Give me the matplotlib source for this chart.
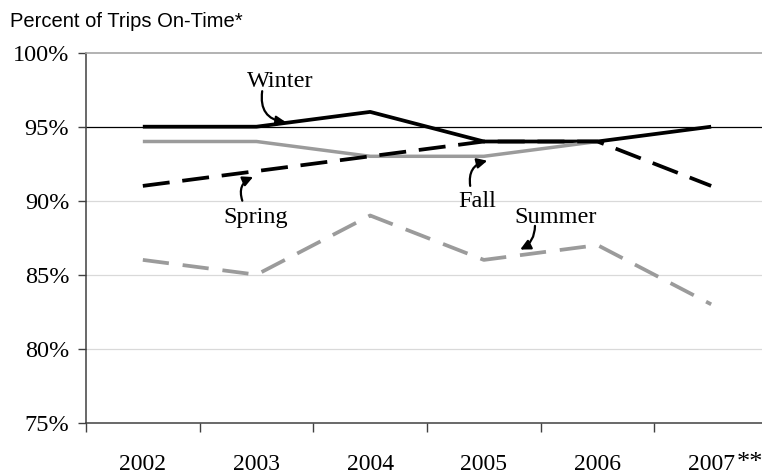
import numpy as np
import matplotlib
matplotlib.use('Agg')
from matplotlib import pyplot as plt
from matplotlib import transforms

# data
years = ['2002', '2003', '2004', '2005', '2006', '2007']
winter = [95, 95, 96, 94, 94, 95]
spring = [91, 92, 93, 94, 94, 91]
fall = [94, 94, 93, 93, 94, np.nan]
summer = [86, 85, 89, 86, 87, 83]
yticks = [75, 80, 85, 90, 95, 100]

SERIF = 'Liberation Serif'
GRAY = '#9B9B9B'

fig = plt.figure(figsize=(7.62, 4.75), dpi=100)
ax = fig.add_axes([86 / 762, 52.3 / 475, 682 / 762, 370 / 475])
x = np.arange(len(years))

# gridlines
for g in [80, 85, 90]:
    ax.axhline(g, color='#D9D9D9', lw=0.9, zorder=0)
ax.axhline(95, color='black', lw=0.9, zorder=1)

# series
ax.plot(x, fall, color=GRAY, lw=2.5, solid_capstyle='butt', zorder=3)
ax.plot(x, winter, color='black', lw=2.7, solid_capstyle='butt', zorder=2)
ax.plot(x, spring, color='black', lw=2.7, dashes=(7.2, 3.4), zorder=4)
ax.plot(x, summer, color=GRAY, lw=2.7, dashes=(7.0, 3.7), zorder=4)

ax.set_xlim(-0.5, 5.5)
ax.set_ylim(75, 100)

# axes styling
ax.spines['right'].set_visible(False)
ax.spines['top'].set_color('#A6A6A6')
ax.spines['top'].set_linewidth(1.2)
for s in ['left', 'bottom']:
    ax.spines[s].set_color('#404040')
    ax.spines[s].set_linewidth(1.1)

ax.set_yticks(yticks)
ax.set_yticklabels([f'{v}%' for v in yticks], fontsize=17.5, family=SERIF)
ax.tick_params(axis='y', length=6, width=1, color='#404040', pad=6)

ax.set_xticks(x)
ax.set_xticklabels(years, fontsize=17, family=SERIF)
ax.set_xticks(np.arange(-0.5, 6, 1), minor=True)
ax.tick_params(axis='x', which='major', length=0, pad=22.5)
ax.tick_params(axis='x', which='minor', length=6.5, width=1, color='#404040')

blend = transforms.blended_transform_factory(ax.transData, ax.transAxes)
ax.text(5.225, -0.078, '**', transform=blend, ha='left', va='top',
        fontsize=19, family=SERIF)

fig.text(10 / 762, 1 - 27 / 475, 'Percent of Trips On-Time*', fontsize=14.5,
         family='Liberation Sans', ha='left', va='baseline')

# labels with curved arrows
def label(txt, tx, ty, start, end, rad):
    ax.text(tx, ty, txt, fontsize=17.5, family=SERIF, ha='center', va='baseline', zorder=6)
    ax.annotate('', xy=end, xytext=start, zorder=6,
                arrowprops=dict(arrowstyle='-|>,head_length=0.6,head_width=0.3',
                                connectionstyle=f'arc3,rad={rad}', color='black',
                                lw=1.6, shrinkA=0, shrinkB=0))

label('Winter', 1.21, 97.66, (1.05, 97.4), (1.26, 95.3), 0.5)
label('Spring', 0.99, 88.5, (0.875, 90.0), (0.97, 91.6), -0.45)
label('Fall', 2.94, 89.6, (2.88, 91.0), (3.03, 92.7), -0.45)
label('Summer', 3.63, 88.5, (3.45, 88.3), (3.32, 86.7), -0.3)

fig.savefig('out.png', dpi=100)
